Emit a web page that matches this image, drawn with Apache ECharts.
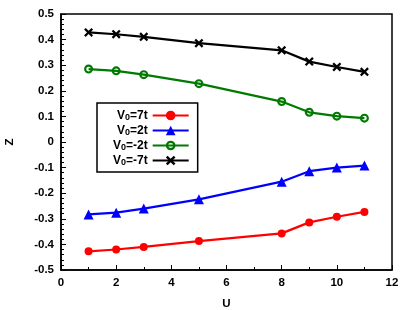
<!DOCTYPE html>
<html>
<head>
<meta charset="utf-8">
<script src="https://cdn.jsdelivr.net/npm/echarts@6/dist/echarts.min.js"></script>
<style>
html,body{margin:0;padding:0;background:#fff;}
#chart{width:415px;height:310px;}
</style>
</head>
<body>
<div id="chart"></div>
<script>
var U = [1, 2, 3, 5, 8, 9, 10, 11];
var seriesNames = ['V0=7t', 'V0=2t', 'V0=-2t', 'V0=-7t'];
var zV7 = [-0.427, -0.420, -0.410, -0.387, -0.357, -0.314, -0.292, -0.273];
var zV2 = [-0.283, -0.276, -0.260, -0.224, -0.155, -0.114, -0.100, -0.092];
var zVm2 = [0.285, 0.278, 0.263, 0.228, 0.158, 0.116, 0.101, 0.093];
var zVm7 = [0.428, 0.421, 0.411, 0.386, 0.358, 0.314, 0.293, 0.274];
var xTicks = [0, 2, 4, 6, 8, 10, 12];
var yTicks = [-0.5, -0.4, -0.3, -0.2, -0.1, 0, 0.1, 0.2, 0.3, 0.4, 0.5];

var FONT = '"Liberation Sans", Arial, sans-serif';
function pairs(ys){ return U.map(function(u,i){ return [u, ys[i]]; }); }

var ring = 'path://M0,5 A5,5 0 1,0 10,5 A5,5 0 1,0 0,5 Z M2.4,5 A2.6,2.6 0 1,1 7.6,5 A2.6,2.6 0 1,1 2.4,5 Z';
var cross = 'path://M0,1.8 L1.8,0 L5,3.2 L8.2,0 L10,1.8 L6.8,5 L10,8.2 L8.2,10 L5,6.8 L1.8,10 L0,8.2 L3.2,5 Z';

var styles = [
  {color:'#ff0000', symbol:'circle', size:8},
  {color:'#0000ff', symbol:'triangle', size:10},
  {color:'#007a00', symbol:ring, size:9},
  {color:'#000000', symbol:cross, size:9}
];
var dataSets = [zV7, zV2, zVm2, zVm7];

var series = dataSets.map(function(d, i){
  var s = styles[i];
  return {
    name: seriesNames[i],
    type: 'line',
    data: pairs(d),
    symbol: s.symbol,
    symbolSize: s.size,
    showAllSymbol: true,
    lineStyle: {color: s.color, width: 2.2},
    itemStyle: {color: s.color},
    emphasis: {disabled: true},
    animation: false,
    z: 3 + i
  };
});

var chart = echarts.init(document.getElementById('chart'));
chart.setOption({
  backgroundColor: '#fff',
  animation: false,
  grid: {left: 61, right: 23, top: 14, bottom: 40, containLabel: false, outerBoundsMode: 'none', show: true, borderColor: '#000', borderWidth: 1.5, backgroundColor: 'transparent'},
  legend: {
    orient: 'vertical',
    left: 97,
    top: 103,
    align: 'right',
    padding: [5, 8, 5, 16],
    borderColor: '#000',
    borderWidth: 1.5,
    itemWidth: 36,
    itemHeight: 12,
    itemGap: 1,
    data: seriesNames,
    formatter: function(n){ return n.replace('V0', 'V{s|0}'); },
    textStyle: {
      fontFamily: FONT, fontWeight: 'bold', fontSize: 12, color: '#000', lineHeight: 13,
      rich: {s: {fontFamily: FONT, fontWeight: 'bold', fontSize: 9, color: '#000', verticalAlign: 'bottom', lineHeight: 13, padding: [5, 0, 0, 0]}}
    }
  },
  xAxis: {
    type: 'value',
    min: xTicks[0], max: xTicks[xTicks.length-1], interval: 2,
    name: 'U', nameLocation: 'middle', nameGap: 28,
    nameTextStyle: {fontFamily: FONT, fontWeight: 'bold', fontSize: 11.5, color: '#000'},
    axisLine: {show: true, onZero: false, lineStyle: {color: '#000', width: 1.5}},
    axisTick: {show: true, inside: true, length: 5, lineStyle: {color: '#000', width: 1}},
    minorTick: {show: true, splitNumber: 2, length: 3, lineStyle: {color: '#000', width: 1}},
    splitLine: {show: false},
    axisLabel: {fontFamily: FONT, fontWeight: 'bold', fontSize: 11.5, color: '#000', margin: 7}
  },
  yAxis: {
    type: 'value',
    min: yTicks[0], max: yTicks[yTicks.length-1], interval: 0.1,
    name: 'Z', nameLocation: 'middle', nameGap: 45, nameRotate: 90,
    nameTextStyle: {fontFamily: FONT, fontWeight: 'bold', fontSize: 11.5, color: '#000'},
    axisLine: {show: true, onZero: false, lineStyle: {color: '#000', width: 1.5}},
    axisTick: {show: true, inside: true, length: 5, lineStyle: {color: '#000', width: 1}},
    minorTick: {show: true, splitNumber: 5, length: 3, lineStyle: {color: '#000', width: 1}},
    splitLine: {show: false},
    axisLabel: {fontFamily: FONT, fontWeight: 'bold', fontSize: 11.5, color: '#000', margin: 7,
      formatter: function(v){ return String(Math.round(v*10)/10); }}
  },
  series: series
});
</script>
</body>
</html>
